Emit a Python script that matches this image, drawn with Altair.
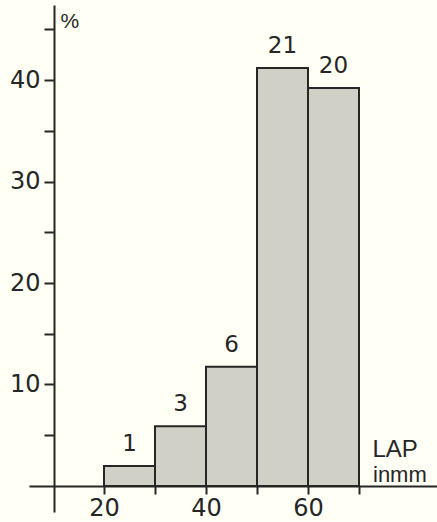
import altair as alt
import pandas as pd

# Data
bin_start = [20, 30, 40, 50, 60]
bin_end = [30, 40, 50, 60, 70]
percent = [1.96, 5.88, 11.76, 41.18, 39.22]
counts = ["1", "3", "6", "21", "20"]

x_tick_values = [20, 30, 40, 50, 60, 70]
y_tick_values = [5, 10, 15, 20, 25, 30, 35, 40, 45]

df = pd.DataFrame({"start": bin_start, "end": bin_end, "pct": percent, "n": counts})

INK = "#262626"
BG = "#fffff5"
FILL = "#d0d0c7"
DIGIT_FONT = "DejaVu Sans"
TEXT_FONT = "Liberation Sans"

xs = alt.Scale(domain=[5.294, 85.294], nice=False, zero=False)
ys = alt.Scale(domain=[-2.562, 47.39], nice=False, zero=False)

x_axis = alt.Axis(
    values=x_tick_values,
    labelExpr="datum.value % 20 == 0 ? datum.label : ''",
    offset=-26,
    domain=True,
    domainColor=INK,
    domainWidth=2,
    grid=False,
    tickSize=8,
    tickWidth=2,
    tickColor=INK,
    labelFont=DIGIT_FONT,
    labelFontSize=24,
    labelColor=INK,
    labelPadding=2,
    title="LAP",
    titleFont=TEXT_FONT,
    titleFontSize=24,
    titleFontWeight="normal",
    titleColor=INK,
    titleAlign="left",
    titleBaseline="alphabetic",
    titleAnchor="start",
    titleX=343,
    titleY=-30,
)

y_axis = alt.Axis(
    values=y_tick_values,
    labelExpr="datum.value % 10 == 0 ? datum.label : ''",
    offset=-25,
    domain=True,
    domainColor=INK,
    domainWidth=2,
    grid=False,
    tickSize=10,
    tickWidth=2,
    tickColor=INK,
    labelFont=DIGIT_FONT,
    labelFontSize=24,
    labelColor=INK,
    labelPadding=4,
    title="%",
    titleFont=TEXT_FONT,
    titleFontSize=21,
    titleFontWeight="normal",
    titleColor=INK,
    titleAngle=0,
    titleAlign="left",
    titleBaseline="alphabetic",
    titleX=6,
    titleY=22,
)

base = alt.Chart(df)

bars = base.mark_rect(fill=FILL, stroke=INK, strokeWidth=2).encode(
    x=alt.X("start:Q", scale=xs, axis=x_axis),
    x2="end:Q",
    y=alt.Y("pct:Q", scale=ys, axis=y_axis),
    y2=alt.datum(0),
)

labels = base.mark_text(
    font=DIGIT_FONT, fontSize=23, color=INK, baseline="alphabetic", dy=-15
).encode(
    x=alt.X("mid:Q", scale=xs),
    y=alt.Y("pct:Q", scale=ys),
    text="n:N",
).transform_calculate(mid="(datum.start + datum.end) / 2")

unit_text = alt.Chart(pd.DataFrame({"t": ["inmm"]})).mark_text(
    font=TEXT_FONT, fontSize=22, color=INK, align="left", baseline="alphabetic"
).encode(
    x=alt.value(344),
    y=alt.value(477),
    text="t:N",
)

chart = (
    alt.layer(bars, labels, unit_text)
    .properties(
        width=408,
        height=507,
        autosize=alt.AutoSizeParams(type="none"),
        padding={"left": 29, "top": 5, "right": 0, "bottom": 10},
        background=BG,
    )
    .configure_view(stroke=None)
)

chart.save("out.html", embed_options={"renderer": "svg", "actions": False})
